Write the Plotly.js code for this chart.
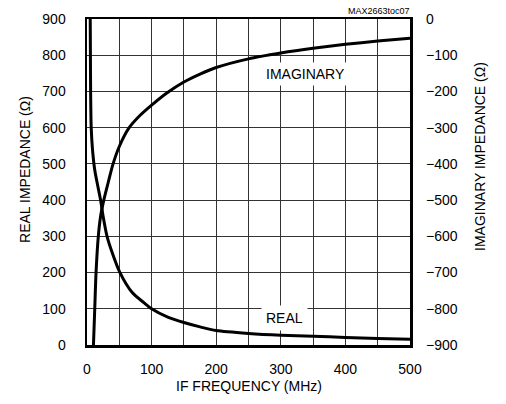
<!DOCTYPE html>
<html>
<head>
<meta charset="utf-8">
<script src="https://cdn.plot.ly/plotly-3.0.1.min.js"></script>
<style>html,body{margin:0;padding:0;background:#fff;}#chart{width:506px;height:404px;}</style>
</head>
<body>
<div id="chart"></div>
<script>
// Real impedance (Ohm) vs IF frequency (MHz) - left axis
const realFreq = [5, 5.3, 5.6, 6.5, 8.5, 12, 16, 21, 25, 31, 40, 51, 70, 88, 100, 125, 150, 175, 200, 250, 300, 350, 400, 450, 500];
const realOhm  = [900, 800, 700, 600, 540, 483, 445, 400, 355, 300, 250, 200, 145, 117, 100, 77, 62, 50, 40, 32, 27, 24, 21, 18, 16];
// Imaginary impedance (Ohm) vs IF frequency (MHz) - right axis
const imagFreq = [10, 12, 14, 17.5, 21, 26, 33, 40, 50, 64.5, 80, 100, 123, 150, 175, 200, 250, 300, 350, 400, 450, 500];
const imagOhm  = [-900, -800, -700, -600, -545, -500, -450, -402, -352, -302, -270, -238, -205, -174, -152, -134, -110, -94, -81, -70, -61, -53];

const FONT = "Liberation Sans, Arial, Helvetica, sans-serif";

const traces = [
  {x: realFreq, y: realOhm, type: 'scatter', mode: 'lines', yaxis: 'y',
   line: {color: '#000', width: 3, shape: 'spline', smoothing: 0.7}, hoverinfo: 'skip'},
  {x: imagFreq, y: imagOhm, type: 'scatter', mode: 'lines', yaxis: 'y2',
   line: {color: '#000', width: 3, shape: 'spline', smoothing: 0.7}, hoverinfo: 'skip'}
];

const layout = {
  width: 506, height: 404,
  margin: {l: 87, r: 96, t: 19, b: 59, pad: 0},
  paper_bgcolor: '#fff', plot_bgcolor: '#fff',
  showlegend: false,
  font: {family: FONT, size: 14, color: '#000'},
  xaxis: {
    range: [0, 500], dtick: 100, tick0: 0, ticks: '', ticklabelstandoff: 10,
    showgrid: true, gridcolor: '#333', gridwidth: 1,
    minor: {dtick: 50, showgrid: true, gridcolor: '#333', gridwidth: 1, ticks: ''},
    showline: true, linecolor: '#000', linewidth: 2.5, mirror: true, zeroline: false,
    fixedrange: true
  },
  yaxis: {
    range: [0, 900], dtick: 100, tick0: 0, ticks: '', ticklabelstandoff: 16,
    showgrid: true, gridcolor: '#333', gridwidth: 1,
    showline: true, linecolor: '#000', linewidth: 2.5, mirror: true, zeroline: false,
    fixedrange: true
  },
  yaxis2: {
    range: [-900, 0], dtick: 100, tick0: 0, ticks: '', ticklabelstandoff: 15,
    overlaying: 'y', side: 'right', showgrid: false, zeroline: false, showline: false,
    fixedrange: true
  },
  annotations: [
    {text: 'REAL IMPEDANCE (Ω)', xref: 'paper', yref: 'paper', x: -0.192, y: 0.54,
     textangle: -90, showarrow: false, xanchor: 'center', yanchor: 'middle', font: {size: 14}},
    {text: 'IMAGINARY IMPEDANCE (Ω)', xref: 'paper', yref: 'paper', x: 1.217, y: 0.577,
     textangle: -90, showarrow: false, xanchor: 'center', yanchor: 'middle', font: {size: 14}},
    {text: 'IF FREQUENCY (MHz)', xref: 'paper', yref: 'paper', x: 0.5, y: -0.126,
     showarrow: false, xanchor: 'center', yanchor: 'middle', font: {size: 14}},
    {text: 'MAX2663toc07', xref: 'paper', yref: 'paper', x: 1.006, y: 1.025,
     showarrow: false, xanchor: 'right', yanchor: 'middle', font: {size: 9}},
    {text: 'IMAGINARY', xref: 'x', yref: 'y', x: 337.5, y: 748,
     showarrow: false, xanchor: 'center', yanchor: 'middle', bgcolor: '#fff', borderpad: 3, font: {size: 14}},
    {text: 'REAL', xref: 'x', yref: 'y', x: 305, y: 74.5,
     showarrow: false, xanchor: 'center', yanchor: 'middle', bgcolor: '#fff', borderpad: 4, font: {size: 14}}
  ]
};

Plotly.newPlot('chart', traces, layout, {staticPlot: true, displayModeBar: false});
</script>
</body>
</html>
